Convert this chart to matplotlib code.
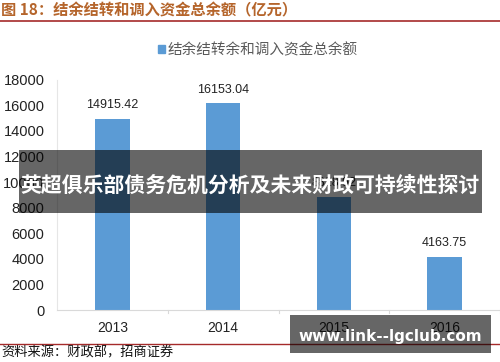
import matplotlib.pyplot as plt
from matplotlib.patches import Rectangle
from matplotlib.lines import Line2D

plt.rcParams['font.family'] = ['Noto Sans CJK SC', 'DejaVu Sans']

years = ['2013', '2014', '2015', '2016']
balance = [14915.42, 16153.04, 8828.92, 4163.75]
labels = ['14915.42', '16153.04', '8828.92', '4163.75']
yticks = [0, 2000, 4000, 6000, 8000, 10000, 12000, 14000, 16000, 18000]

fig = plt.figure(figsize=(5, 3.62), dpi=100)
W, H = 500, 362
ax = fig.add_axes([57/W, 1-310/H, 443/W, (310-79.6)/H])

x = range(len(years))
ax.bar(x, balance, width=0.31, color='#5B9BD5', zorder=2)
for i, v in enumerate(balance):
    ax.text(i, v + 600, labels[i], ha='center', va='bottom', fontsize=9,
            color='#222222', family='Liberation Sans')

ax.set_xlim(-0.5, 3.5)
ax.set_ylim(0, 18000)
ax.set_yticks(yticks)
ax.set_yticklabels([str(t) for t in yticks], fontsize=10.5, color='#222222', family='Liberation Sans')
ax.set_xticks(list(x))
ax.set_xticklabels(years, fontsize=10, color='#222222', family='Liberation Sans')
ax.tick_params(axis='y', length=0, pad=9)
ax.tick_params(axis='x', length=0, pad=8)
for b in [0.5, 1.5, 2.5, 3.5]:
    ax.plot([b, b], [0, -250], color='#D9D9D9', lw=0.8, clip_on=False)
for s in ['top', 'right']:
    ax.spines[s].set_visible(False)
ax.spines['left'].set_color('#E6E6E6')
ax.spines['bottom'].set_color('#D9D9D9')

leg = fig.legend(handles=[Rectangle((0, 0), 1, 1, color='#5B9BD5')],
                 labels=['结余结转余和调入资金总余额'], loc='center',
                 bbox_to_anchor=(258/W, 1-50/H), frameon=False, fontsize=10.5,
                 handlelength=0.5, handleheight=0.5, handletextpad=0.2)
for t in leg.get_texts():
    t.set_color('#595959')

# header and footer
fig.text(1/W, 1-10/H, '图 18：结余结转和调入资金总余额（亿元）', fontsize=11,
         fontweight='bold', color='#B5652B', va='center', ha='left')
fig.add_artist(Line2D([0, 1], [1-20.5/H, 1-20.5/H], color='#A52A2A', lw=1.2))
fig.add_artist(Line2D([0, 1], [1-344/H, 1-344/H], color='#A52A2A', lw=1.0))
fig.text(1/W, 1-353/H, '资料来源：财政部，招商证券', fontsize=9.5, color='#111111', va='center', ha='left')

# overlays
fig.add_artist(Rectangle((19/W, 1-213/H), 463/W, 63/H, transform=fig.transFigure,
                         facecolor='black', alpha=0.6, edgecolor='none', zorder=5))
fig.text(250/W, 1-185/H, '英超俱乐部债务危机分析及未来财政可持续性探讨', fontsize=15,
         fontweight='bold', color='white', ha='center', va='center', zorder=6)
fig.add_artist(Rectangle((290/W, 1-353/H), 201/W, 38/H, transform=fig.transFigure,
                         facecolor='black', alpha=0.6, edgecolor='none', zorder=5))
fig.text(390/W, 1-336/H, 'www.link--lgclub.com', fontsize=11, fontweight='bold',
         color='white', ha='center', va='center', zorder=6, family='DejaVu Sans')

fig.savefig('out.png', dpi=100)
